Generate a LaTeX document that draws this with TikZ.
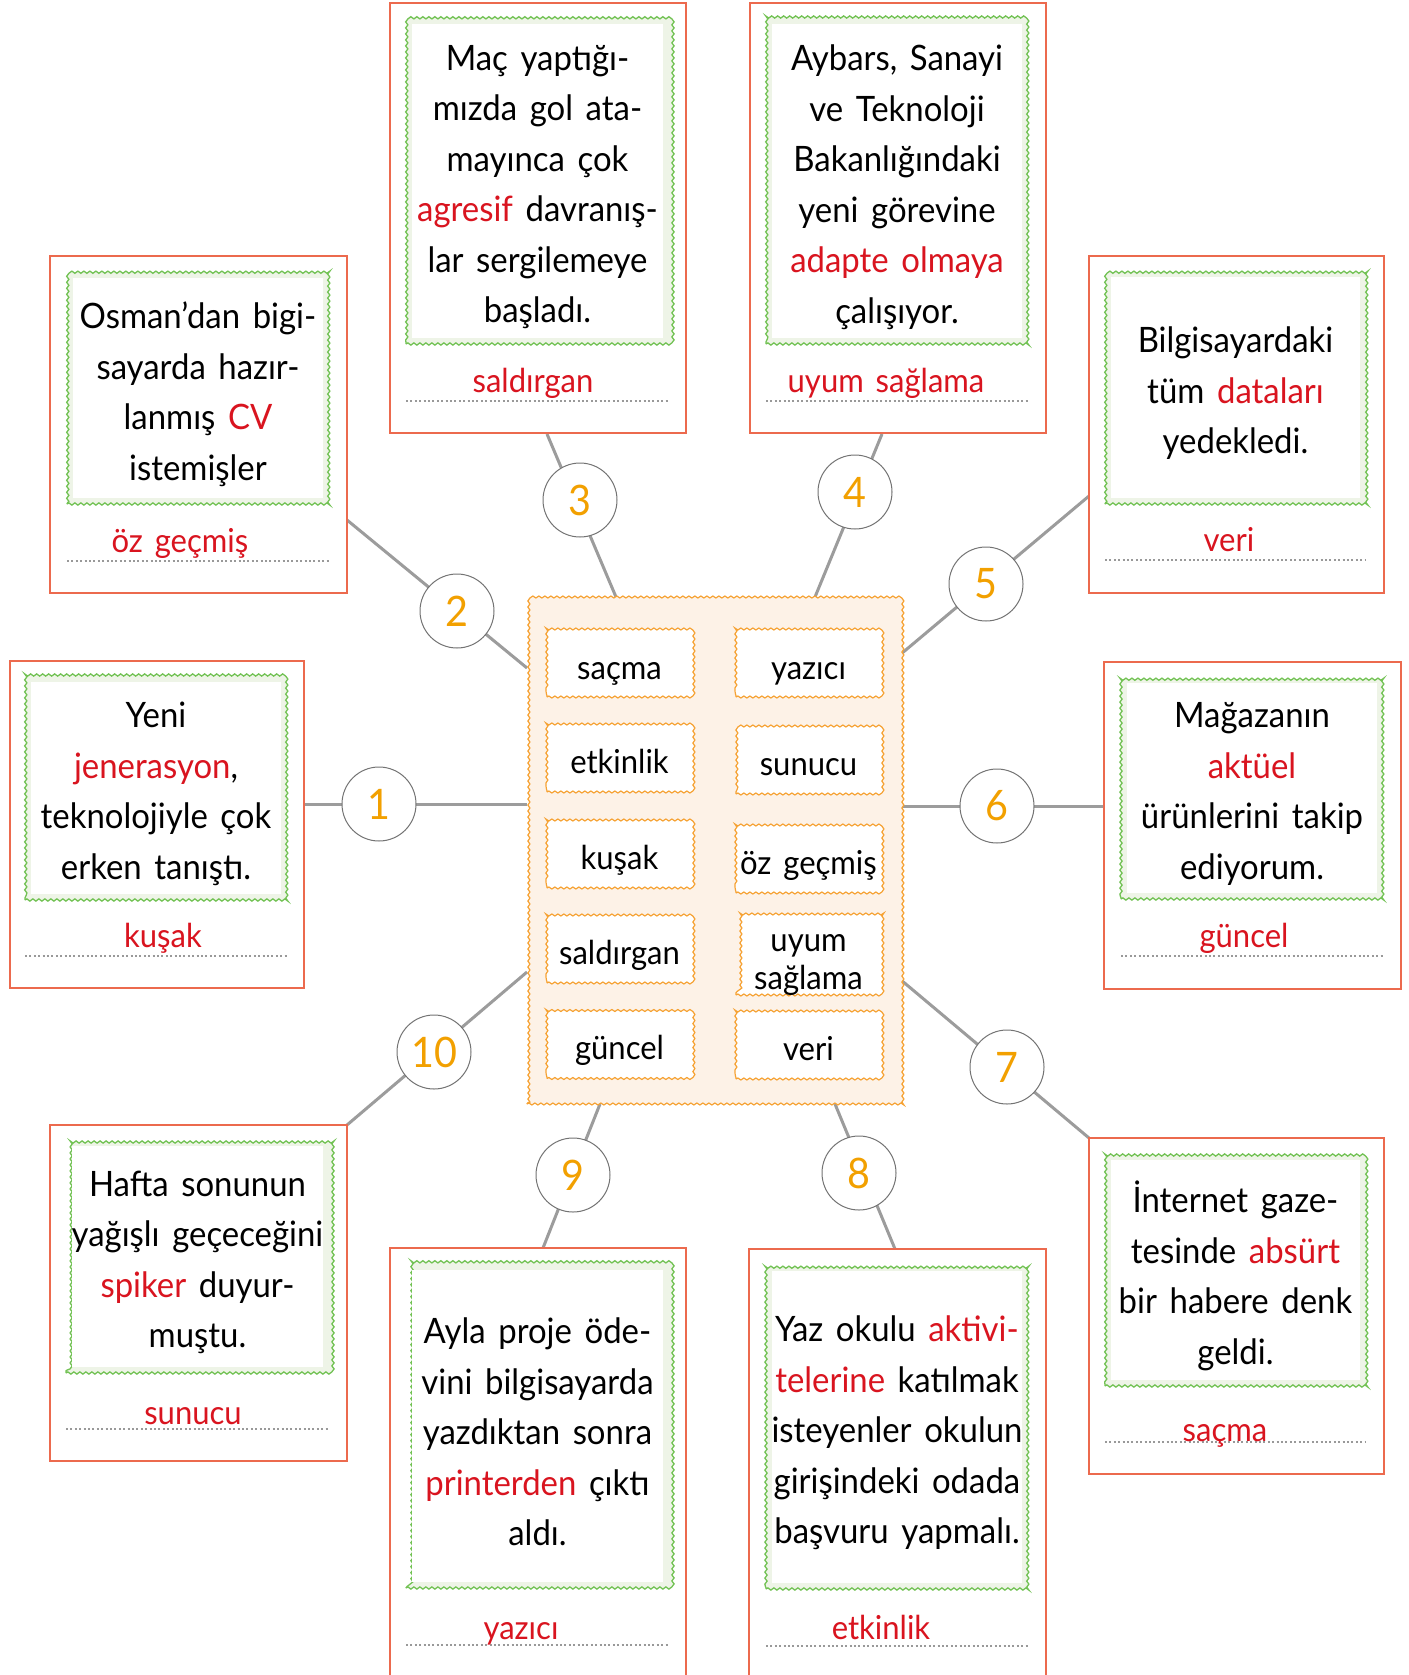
\documentclass[tikz,border=0pt]{standalone}
\usepackage{fontspec}
\setmainfont[WordSpace=1.5,FakeStretch=0.94]{Lato}
\usetikzlibrary{decorations.pathmorphing}
\definecolor{cardred}{HTML}{EC6A4E}
\definecolor{ansred}{HTML}{D9141F}
\definecolor{wavegreen}{HTML}{72C254}
\definecolor{lightgreen}{HTML}{EEF4E7}
\definecolor{waveorange}{HTML}{F6A233}
\definecolor{boxfill}{HTML}{FDF2E7}
\definecolor{numorange}{HTML}{F2A000}
\definecolor{linegray}{HTML}{9C9C9C}
\newcommand{\rw}[1]{\textcolor{ansred}{#1}}
\begin{document}
\begin{tikzpicture}[x=1pt,y=-1pt,
 card/.style={draw=cardred, line width=2pt, fill=white, inner sep=0pt},
 gbox/.style={draw=wavegreen, line width=1.3pt, fill=lightgreen, decorate, decoration={snake, amplitude=1.1pt, segment length=6pt}, inner sep=0pt},
 gin/.style={fill=white, inner sep=0pt},
 ctext/.style={align=center, font=\fontsize{35}{50.5}\selectfont, inner sep=0pt, yshift=-6pt},
 ans/.style={anchor=base, text=ansred, font=\fontsize{33}{38}\selectfont, inner sep=0pt},
 dotline/.style={draw=gray!80, line width=2pt, dash pattern=on 2pt off 2.4pt},
 wbox/.style={draw=waveorange, line width=1.2pt, fill=white, decorate, decoration={snake, amplitude=1pt, segment length=6pt}, inner sep=0pt, minimum width=145pt},
 wtext/.style={anchor=base, inner sep=0pt, font=\fontsize{33}{38}\selectfont},
 bigbox/.style={draw=waveorange, line width=1.2pt, fill=boxfill, decorate, decoration={snake, amplitude=1pt, segment length=6pt}, inner sep=0pt},
 numc/.style={circle, draw=gray!90!black, line width=1pt, fill=white, minimum size=74pt, inner sep=0pt, text=numorange, font=\fontsize{42}{42}\selectfont},
 conn/.style={draw=linegray, line width=3pt}
]
\useasboundingbox (0,0) rectangle (1408,1675);
\clip (0,0) rectangle (1408,1675);

% connector end points
\coordinate (p1a) at (304,804);  \coordinate (p1b) at (527,804);
\coordinate (p2a) at (347,520);  \coordinate (p2b) at (527,668);
\coordinate (p3a) at (547,434);  \coordinate (p3b) at (616,597);
\coordinate (p4a) at (882,434);  \coordinate (p4b) at (815,597);
\coordinate (p5a) at (1089,496); \coordinate (p5b) at (901,654);
\coordinate (p6a) at (1105,806); \coordinate (p6b) at (901,806);
\coordinate (p7a) at (1089,1138);\coordinate (p7b) at (901,980);
\coordinate (p8a) at (895,1249); \coordinate (p8b) at (835,1104);
\coordinate (p9a) at (543,1248); \coordinate (p9b) at (600,1104);
\coordinate (p10a) at (347,1125);\coordinate (p10b) at (527,972);
\foreach \i in {1,...,10} { \draw[conn] (p\i a) -- (p\i b); }

% ---------- cards ----------
% card 1
\node[card, minimum width=294pt, minimum height=327pt] (c1) at (157,824.5) {};
\node[gbox, minimum width=262pt, minimum height=224pt] (g1) at (156,788) {};
\node[gin, minimum width=250pt, minimum height=212pt] (w1) at (g1) {};
\node[ctext] (t1) at (g1) {Yeni\\\rw{jenerasyon},\\teknolojiyle çok\\erken tanıştı.};
\draw[dotline] (25,956) -- (287,956);
\node[ans] (a1) at (163,947) {kuşak};

% card 2
\node[card, minimum width=297pt, minimum height=337pt] (c2) at (198.5,424.5) {};
\node[gbox, minimum width=262pt, minimum height=232pt] (g2) at (198,388) {};
\node[gin, minimum width=250pt, minimum height=220pt] (w2) at (g2) {};
\node[ctext] (t2) at (g2) {Osman’dan bigi-\\sayarda hazır-\\lanmış \rw{CV}\\istemişler};
\draw[dotline] (67,561) -- (329,561);
\node[ans] (a2) at (180,552) {öz geçmiş};

% card 3
\node[card, minimum width=296pt, minimum height=430pt] (c3) at (538,218) {};
\node[gbox, minimum width=263pt, minimum height=326pt] (g3) at (537.5,181) {};
\node[gin, minimum width=251pt, minimum height=314pt] (w3) at (g3) {};
\node[ctext] (t3) at (g3) {Maç yaptığı-\\mızda gol ata-\\mayınca çok\\\rw{agresif} davranış-\\lar sergilemeye\\başladı.};
\draw[dotline] (406,401) -- (669,401);
\node[ans] (a3) at (533,392) {saldırgan};

% card 4
\node[card, minimum width=296pt, minimum height=430pt] (c4) at (898,218) {};
\node[gbox, minimum width=262pt, minimum height=326pt] (g4) at (897,181) {};
\node[gin, minimum width=250pt, minimum height=314pt] (w4) at (g4) {};
\node[ctext] (t4) at (g4) {Aybars, Sanayi\\ve Teknoloji\\Bakanlığındaki\\yeni görevine\\\rw{adapte olmaya}\\çalışıyor.};
\draw[dotline] (766,401) -- (1028,401);
\node[ans] (a4) at (886,392) {uyum sağlama};

% card 5
\node[card, minimum width=295pt, minimum height=337pt] (c5) at (1236.5,424.5) {};
\node[gbox, minimum width=261pt, minimum height=233pt] (g5) at (1235.5,387.5) {};
\node[gin, minimum width=249pt, minimum height=221pt] (w5) at (g5) {};
\node[ctext] (t5) at (g5) {Bilgisayardaki\\tüm \rw{dataları}\\yedekledi.};
\draw[dotline] (1105,560) -- (1366,560);
\node[ans] (a5) at (1229,551) {veri};

% card 6
\node[card, minimum width=297pt, minimum height=327pt] (c6) at (1252.5,825.5) {};
\node[gbox, minimum width=262pt, minimum height=222pt] (g6) at (1252,788) {};
\node[gin, minimum width=250pt, minimum height=210pt] (w6) at (g6) {};
\node[ctext] (t6) at (g6) {Mağazanın\\\rw{aktüel}\\ürünlerini takip\\ediyorum.};
\draw[dotline] (1121,956) -- (1383,956);
\node[ans] (a6) at (1244,947) {güncel};

% card 7
\node[card, minimum width=295pt, minimum height=336pt] (c7) at (1236.5,1306) {};
\node[gbox, minimum width=261pt, minimum height=232pt] (g7) at (1235.5,1270) {};
\node[gin, minimum width=249pt, minimum height=220pt] (w7) at (g7) {};
\node[ctext] (t7) at (g7) {İnternet gaze-\\tesinde \rw{absürt}\\bir habere denk\\geldi.};
\draw[dotline] (1105,1442) -- (1366,1442);
\node[ans] (a7) at (1225,1441) {saçma};

% card 8
\node[card, minimum width=297pt, minimum height=451pt] (c8) at (897.5,1474.5) {};
\node[gbox, minimum width=262pt, minimum height=324pt] (g8) at (897,1427) {};
\node[gin, minimum width=250pt, minimum height=312pt] (w8) at (g8) {};
\node[ctext] (t8) at (g8) {Yaz okulu \rw{aktivi-}\\\rw{telerine} katılmak\\isteyenler okulun\\girişindeki odada\\başvuru yapmalı.};
\draw[dotline] (766,1646) -- (1028,1646);
\node[ans] (a8) at (881,1639) {etkinlik};

% card 9
\node[card, minimum width=296pt, minimum height=452pt] (c9) at (538,1474) {};
\node[gbox, minimum width=263pt, minimum height=324pt] (g9) at (537.5,1426) {};
\node[gin, minimum width=251pt, minimum height=312pt] (w9) at (g9) {};
\node[ctext] (t9) at (g9) {Ayla proje öde-\\vini bilgisayarda\\yazdıktan sonra\\\rw{printerden} çıktı\\aldı.};
\draw[dotline] (406,1645) -- (669,1645);
\node[ans] (a9) at (521,1639) {yazıcı};

% card 10
\node[card, minimum width=297pt, minimum height=336pt] (c10) at (198.5,1293) {};
\node[gbox, minimum width=263pt, minimum height=233pt] (g10) at (197.5,1256.5) {};
\node[gin, minimum width=251pt, minimum height=221pt] (w10) at (g10) {};
\node[ctext] (t10) at (g10) {Hafta sonunun\\yağışlı geçeceğini\\\rw{spiker} duyur-\\muştu.};
\draw[dotline] (66,1429) -- (329,1429);
\node[ans] (a10) at (193,1424) {sunucu};

% ---------- central word box ----------
\node[bigbox, minimum width=374pt, minimum height=507pt] (box) at (714,850.5) {};
\node[wbox, minimum height=66pt] (wl1) at (619.5,664) {};
\node[wbox, minimum height=66pt] (wl2) at (619.5,759) {};
\node[wbox, minimum height=66pt] (wl3) at (619.5,855) {};
\node[wbox, minimum height=66pt] (wl4) at (619.5,950) {};
\node[wbox, minimum height=66pt] (wl5) at (619.5,1045.5) {};
\node[wbox, minimum height=66pt] (wr1) at (808.5,664) {};
\node[wbox, minimum height=65pt] (wr2) at (808.5,761.5) {};
\node[wbox, minimum height=66pt] (wr3) at (808.5,860) {};
\node[wbox, minimum height=80pt] (wr4) at (808.5,955) {};
\node[wbox, minimum height=66pt] (wr5) at (808.5,1046) {};
\node[wtext] (tl1) at ([yshift=-15pt]wl1.center) {saçma};
\node[wtext] (tl2) at ([yshift=-14pt]wl2.center) {etkinlik};
\node[wtext] (tl3) at ([yshift=-14pt]wl3.center) {kuşak};
\node[wtext] (tl4) at ([yshift=-14pt]wl4.center) {saldırgan};
\node[wtext] (tl5) at ([yshift=-14pt]wl5.center) {güncel};
\node[wtext] (tr1) at ([yshift=-15pt]wr1.center) {yazıcı};
\node[wtext] (tr2) at ([yshift=-14pt]wr2.center) {sunucu};
\node[wtext] (tr3) at ([yshift=-14pt]wr3.center) {öz geçmiş};
\node[wtext] (tr4a) at ([yshift=4pt]wr4.center) {uyum};
\node[wtext] (tr4b) at ([yshift=-34pt]wr4.center) {sağlama};
\node[wtext] (tr5) at ([yshift=-14pt]wr5.center) {veri};

% ---------- number circles ----------
\node[numc] (n1) at (379,804) {1};
\node[numc] (n2) at (457,611) {2};
\node[numc] (n3) at (580,500) {3};
\node[numc] (n4) at (855,492) {4};
\node[numc] (n5) at (986,584) {5};
\node[numc] (n6) at (997,806) {6};
\node[numc] (n7) at (1007,1067) {7};
\node[numc] (n8) at (859,1173) {8};
\node[numc] (n9) at (573,1175) {9};
\node[numc] (n10) at (434,1052) {10};
\end{tikzpicture}
\end{document}
